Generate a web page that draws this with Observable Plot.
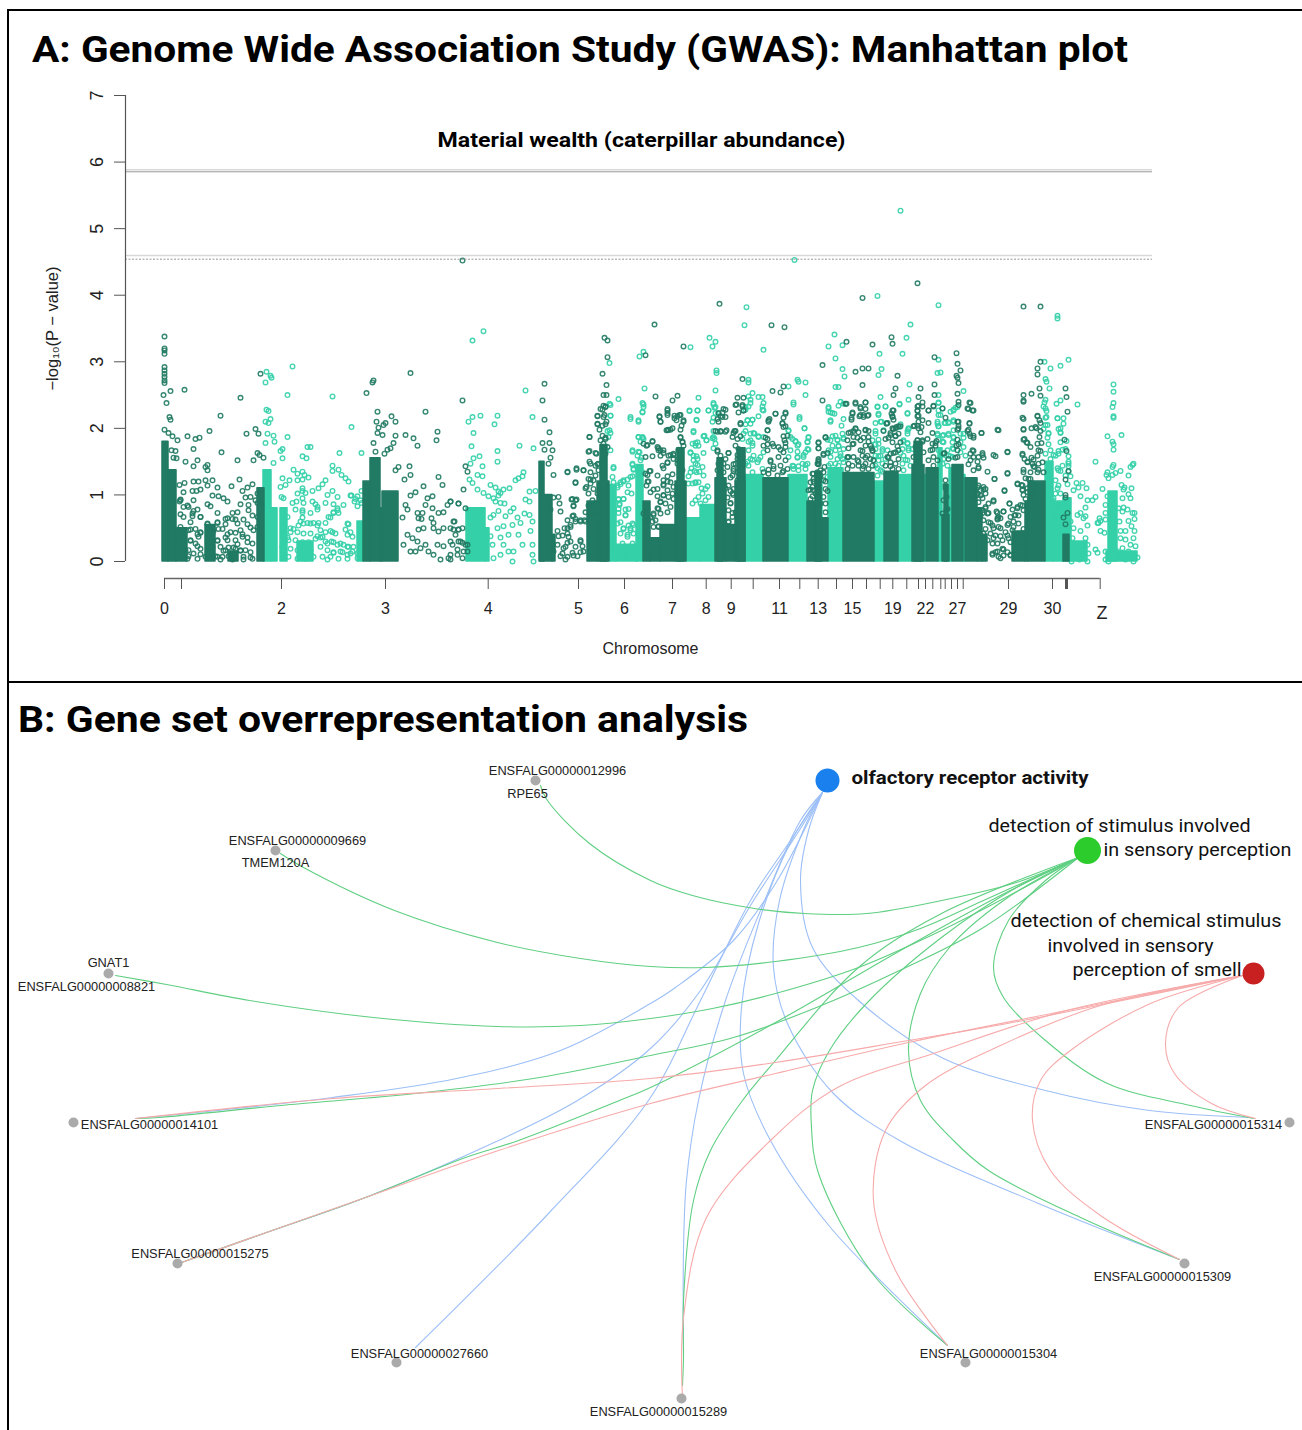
<!DOCTYPE html>
<html><head><meta charset="utf-8">
<script src="https://cdn.jsdelivr.net/npm/d3@7"></script>
<script src="https://cdn.jsdelivr.net/npm/@observablehq/plot@0.6"></script>
<style>
html,body{margin:0;padding:0;background:#fff;}
#page{position:relative;width:1302px;height:1430px;overflow:hidden;background:#fff;}
#page svg{position:absolute;left:0;background:transparent;overflow:visible;}
.title{position:absolute;font-family:Roboto,sans-serif;font-weight:700;color:#000;white-space:nowrap;line-height:1;transform-origin:left center;}
.rule{position:absolute;background:#000;}
</style></head><body>
<div id="page">
<div class="rule" style="left:7px;top:9px;width:2px;height:1421px"></div>
<div class="rule" style="left:7px;top:9px;width:1295px;height:2px"></div>
<div class="rule" style="left:7px;top:681px;width:1295px;height:2px"></div>
<div class="title" id="ta" data-w="1096" style="left:32px;top:31px;font-size:37px">A: Genome Wide Association Study (GWAS): Manhattan plot</div>
<div class="title" id="tb" data-w="730" style="left:18px;top:701px;font-size:37px">B: Gene set overrepresentation analysis</div>
</div>
<script>
// ---------- Panel A: Manhattan plot ----------
const chromTicks=[0,17,117,221,323.7,414,460,508,541.7,566.7,588.7,615,635.3,653.7,672,688,702,715.7,728.3,742.3,754,761,768.3,776.3,780.7,787,793,798.7,844,888,901,902,903,935.7];
const chromLabelPos=[0,117,221,323.7,414,460,508,541.7,566.7,615,653.7,688,728.3,761,793,844,888];
const chromLabels=["0","2","3","4","5","6","7","8","9","11","13","15","19","22","27","29","30"];
const yTicks=[0,1,2,3,4,5,6,7];
const thresholds=[5.884,5.854,4.597,4.541];

// dense columns of overplotted SNPs: start, end, top of the solid mass
const lightColumns=[99,107,1.37,107,113,.8,116,123,.8,133,149,.3,193,199,.6,302,321,.8,321,325,.5,445,452,1.15,452,473,.25,472,479,1.45,522,536,.65,536,551,.85,581,599,1.3,624,643,1.3,657,658,1.3,664,679,1.4,710,720,1.2,734,748,1.3,760,762,1.3,774,778,1.7,785,788,1.4,799,801,1.3,881,889,1.5,889,899,.9,899,907,.95,907,923,.3,944,953,1.05,942,973,.15];
const darkColumns=[-2,4,1.8,4,12,1.37,12,23,.5,41,51,.55,64,74,.15,93,100,1.1,199,206,1.2,206,216,1.55,216,218,.8,218,234,1.05,375,380,1.5,376,388,1,388,391,.4,423,433,.9,433,445,1.2,436,443,1.75,479,486,.9,486,496,.35,496,511,.55,511,522,1.2,513,520,1.7,551,562,1.25,553,559,1.55,562,571,.55,571,581,1.2,573,581,1.7,599,624,1.25,643,657,.9,651,657,1.35,658,664,.65,679,710,1.33,720,734,1.35,748,760,1.45,750,758,1.8,762,774,1.4,778,785,.7,780,784,1.15,788,799,1.45,801,813,1.25,813,818,.8,818,823,.4,848,861,.45,861,864,.9,864,881,1.2,899,905,.4];

// individual SNPs: position, -log10(p)
const darkSnps=[-1,2.5,2,2.38,6,2.56,20,2.58,76,2.46,56,2.19,5,2.17,6,2.13,0,1.98,4,1.93,8,1.88,13,1.82,23,1.88,31,1.84,35,1.86,45,1.96,82,1.92,91,1.99,94,1.92,29,1.69,7,1.67,11,1.66,57,1.64,9,1.56,12,1.55,21,1.5,33,1.52,29,1.43,73,1.52,89,1.52,93,1.63,95,1.6,99,1.56,43,1.45,41,1.42,43,1.37,75,1.23,29,1.2,34,1.2,20,1.18,15,1.15,41,1.22,48,1.22,43,1.14,67,1.13,53,1.11,83,1.11,88,1.16,78,1.06,28,1.06,36,1.08,32,1.06,19,1.04,54,.98,48,.99,16,.93,29,.92,81,.96,59,.95,63,.9,15,.9,43,.86,46,.83,33,.78,29,.76,53,.73,23,.84,19,.82,68,.73,73,.74,76,.86,84,.85,93,.88,36,.67,28,.68,16,.71,63,.65,53,.58,61,.56,71,.63,79,.63,83,.56,86,.51,43,.56,44,.48,49,.46,36,.43,33,.41,26,.48,63,.41,61,.36,71,.43,78,.41,83,.36,73,.26,69,.21,76,.16,64,.08,68,.03,79,.03,86,.06,26,.31,33,.23,21,.16,24,.08,36,.11,48,.21,53,.31,51,.08,59,.16,56,.03,64,.21,
202,2.53,208,2.69,213,2.25,212,2.1,227,2.18,231,2.1,221,2.08,219,2.05,214,2.01,213,1.93,218,1.9,231,1.89,241,1.9,249,1.85,253,1.74,261,2.25,273,1.95,272,1.82,229,1.78,226,1.7,223,1.68,209,1.78,211,1.65,220,1.62,245,1.43,234,1.42,231,1.37,246,1.3,240,1.23,274,1.27,278,1.15,259,1.13,251,1.04,246,.99,268,.98,263,.95,261,.85,241,.85,243,.78,238,.66,268,.8,253,.73,258,.73,254,.65,257,.64,267,.65,274,.73,279,.74,283,.85,286,.9,294,.87,290,.6,269,.58,269,.5,254,.48,259,.5,274,.45,279,.5,289,.48,294,.48,298,.5,243,.4,248,.35,253,.3,239,.25,246,.15,251,.15,256,.2,261,.25,264,.15,273,.25,279,.23,286,.3,294,.3,298,.28,269,.1,276,.03,284,.05,293,.1,299,.15,303,.25,286,.03,
298,2.42,380,2.67,378,2.42,380,2.13,385,1.94,378,1.78,385,1.78,380,1.68,386,1.56,388,1.67,384,1.47,389,1.3,394,.97,389,.96,395,.87,386,.78,396,.75,403,1.34,411,1.18,407,.93,412,.93,409,.83,412,1.4,419,1.37,425,1.87,424,1.65,431,1.63,433,2.18,439,2.5,442,2.5,442,2.65,438,2.28,441,2.33,440,2.2,441,2.06,433,2.06,441,1.86,439,1.7,426,1.47,433,1.46,426,1.23,421,1.1,
491,2.48,508,2.42,513,2.49,503,2.27,503,2.2,495,2.17,496,2.1,515,2.2,510,2.15,519,2.1,503,1.97,506,1.98,516,1.98,488,1.8,483,1.75,494,1.7,496,1.67,488,1.58,506,1.6,509,1.6,499,1.63,516,1.86,518,1.8,514,1.68,513,1.53,503,1.48,499,1.4,486,1.36,483,1.3,483,1.2,503,1.2,499,1.16,489,1.08,493,.98,499,1,496,.9,493,.8,489,.7,488,.6,494,.53,
554,2.1,558,2.17,561,2.28,554,2.23,561,1.95,553,1.95,556,1.95,564,1.63,553,1.65,573,2.46,579,2.46,571,2.35,578,2.35,579,2.27,576,2.06,571,1.96,569,1.93,576,1.88,573,1.6,569,1.46,569,1.36,566,1.26,561,1.1,566,1.06,563,.96,569,1,566,.88,568,.73,564,.6,
608,2.56,619,2.63,616,2.54,611,2.22,604,2.1,603,1.97,619,2.16,621,2.22,618,2.08,621,2.03,619,1.88,621,1.78,616,1.68,606,1.5,603,1.76,609,1.73,601,1.86,614,1.57,609,1.43,604,1.38,619,1.36,
658,2.42,654,1.78,654,1.7,661,1.86,659,1.6,654,1.5,654,1.46,649,1.2,646,1.08,648,.98,654,1.03,681,2.37,661,1.2,663,1.06,684,1.7,
411,.6,408,.68,416,.6,421,.6,403,.5,406,.55,393,.46,394,.38,403,.28,406,.3,399,.2,393,.25,389,.15,396,.08,408,.13,416,.3,418,.23,419,.15,413,.08,401,.03,
286,.9,294,.87,301,.8,299,1.08,289,.6,294,.48,286,.5,291,.4,296,.3,301,.25,288,.25,293,.18,303,.15,286,.1,298,.05,301,1.43,303,1.35,
698,2.65,691,2.37,696,2.3,701,2.39,704,2.2,699,2.2,695,2.18,688,2.22,687,2.13,684,1.93,691,2,689,1.96,704,1.96,701,1.98,693,1.86,699,1.86,704,1.8,707,1.7,688,1.76,683,1.57,698,1.66,701,1.56,694,1.5,699,1.43,708,1.66,731,2.6,729,2.5,729,2.27,728,2.18,729,2.13,722,2.07,728,2,734,2.03,731,2,719,1.96,726,1.9,731,1.88,733,1.73,724,1.56,729,1.63,726,1.43,
756,2.6,754,2.47,753,2.33,753,2.26,753,2.18,754,2.1,758,2.33,749,2.03,754,2,753,1.82,758,1.8,770,2.66,770,2.5,769,2.33,764,2.27,764,2.08,768,1.93,771,1.78,768,1.68,794,2.68,793,2.52,794,2.4,794,2.35,794,2.1,794,2,793,1.83,794,1.76,791,1.56,806,2.38,804,2.29,809,2.27,805,2.07,803,1.96,806,1.88,809,1.86,817,1.93,809,1.66,818,1.6,813,1.5,804,1.46,814,1.4,781,2.16,779,1.62,781,1.1,782,.78,813,1.11,819,1.08,813,1,818,.95,821,.8,818,.73,824,.73,826,.58,833,.73,839,.75,833,.63,836,.65,829,.5,836,.5,843,.55,829,.35,836,.38,844,.35,833,.15,839,.18,828,.1,836,.05,846,.1,851,.7,849,.6,856,.85,853,.8,853,1.16,857,1.15,858,1.08,859,1,863,1.1,866,.95,859,2.5,859,2.4,867,2.52,875,2.6,876,2.49,901,2.6,902,2.47,903,2.25,859,2.14,873,2.18,859,1.98,872,2,876,2.08,876,1.96,859,1.83,863,1.78,866,1.72,858,1.6,863,1.5,859,1.38,861,1.25,869,1.53,876,1.66,869,1.43,874,1.38,900,1.83,902,1.66,904,1.36,901,1.23,901,1,901,.96,903,.73,901,.56,899,.66,843,1.65,831,1.58,843,1.32,830,1.24,840,1.06,829,.9,845,.87,834,1.97,
555,3.87,490,3.56,607,3.55,620,3.52,753,4.18,698,3.96,859,3.83,876,3.83,519,3.23,682,3.3,708,3.26,727,3.37,728,3.27,658,2.95,691,2.85,698,2.9,704,2.9,733,2.79,770,3.07,792,3.13,793,2.97,796,2.87,792,2.79,793,2.76,876,3,873,2.9,873,2.81,578,2.74,298,4.52,0,3.38,0,3.2,0,3.17,0,3.12,0,2.92,0,2.87,0,2.82,0,2.77,0,2.72,0,2.68,96,2.82,209,2.72,246,2.83,440,3.36,443,3.32,443,3.07,438,2.82,481,3.1];

const darkFringe=[439,2.34,436,2.29,441,2.32,433,2.19,439,2.17,442,2.1,433,2.07,438,2.04,435,1.98,425,1.87,438,1.89,441,1.84,436,1.82,439,1.77,443,1.72,438,1.69,425,1.66,441,1.62,432,1.62,425,1.5,438,1.54,434,1.47,431,1.44,426,1.34,419,1.37,412,1.38,403,1.35,434,1.37,438,1.32,431,1.29,411,1.19,424,1.24,429,1.22,426,1.17,422,1.12,429,1.09,424,1.02,433,1.02,428,.92,424,.84,431,.87,421,.74,426,.74,431,.72,408,.94,411,.92,409,.84,409,.69,403,.62,411,.64,416,.62,420,.62,406,.52,400,.5,403,.42,398,.39,416,.32,404,.37,411,.22,401,.22,398,.12,409,.09,403,.07,416,.14,
495,2.18,496,2.1,503,2.29,503,2.23,510,2.19,513,2.18,516,2.2,512,2.12,519,2.12,517,2.04,508,2,504,1.98,502,1.97,516,1.87,518,1.79,519,1.74,488,1.81,479,1.77,482,1.74,493,1.72,494,1.67,499,1.67,496,1.59,504,1.59,509,1.62,514,1.67,516,1.54,481,1.57,503,1.49,509,1.54,513,1.47,516,1.44,498,1.44,518,1.37,485,1.36,481,1.32,493,1.29,503,1.28,508,1.31,499,1.22,506,1.19,484,1.2,482,1.14,499,1.14,513,1.14,509,1.12,493,1.09,503,1.07,508,1.02,486,1.04,499,.99,496,.89,504,.97,509,.94,501,.87,506,.82,494,.79,483,.79,489,.72,479,.72,496,.72,503,.74,486,.67,491,.62,481,.62,489,.52,494,.52,488,.19,
558,2.24,556,2.18,553,2.14,561,2.17,559,2.29,572,2.36,578,2.33,574,2.24,579,2.27,576,2.08,551,1.96,556,1.96,562,1.97,570,1.96,568,1.87,573,1.84,571,1.74,553,1.67,564,1.63,556,1.59,561,1.54,574,1.69,578,1.57,573,1.54,554,1.47,559,1.47,563,1.42,571,1.47,569,1.39,578,1.47,553,1.37,559,1.34,573,1.34,576,1.29,568,1.29,573,1.22,564,1.14,569,1.09,568,1.02,573,.99,566,.87,564,.77,571,.74,568,.67,564,.59,
611,2.22,621,2.24,604,2.12,618,2.07,605,2.14,619,2.02,603,1.97,623,1.89,620,1.82,603,1.84,608,1.77,599,1.74,614,1.72,603,1.67,621,1.72,619,1.64,606,1.52,621,1.52,616,1.44,609,1.39,599,1.34,604,1.32,618,1.34,623,1.39,613,1.29,654,1.54,653,1.47,656,1.37,649,1.32,654,1.27,646,1.19,653,1.17,644,1.07,649,1.07,646,.94,654,1.04,
654,1.79,654,1.7,661,1.87,659,1.62,663,1.63,654,1.52,654,1.47,660,1.42,659,1.34,648,1.32,653,1.34,649,1.24,656,1.29,653,1.19,659,1.22,648,1.12,654,1.09,661,1.09,651,1.02,659,.97,656,.87,661,.87,661,.74,
688,2.24,687,2.16,682,2.37,691,2.39,696,2.32,701,2.29,696,2.2,699,2.17,703,2.19,701,2.39,686,1.94,691,1.99,694,1.94,701,1.97,689,1.87,683,1.82,689,1.77,696,1.82,704,1.87,706,1.74,701,1.74,708,1.67,696,1.67,684,1.57,689,1.57,693,1.52,698,1.59,703,1.59,706,1.54,709,1.52,688,1.44,694,1.44,701,1.47,708,1.44,684,1.47,683,1.39,698,1.39,704,1.39,
728,2.27,728,2.17,727,2.22,723,2.08,732,2.02,736,2.03,729,1.99,726,1.93,731,1.89,734,1.92,721,1.84,724,1.86,736,1.79,728,1.79,723,1.57,726,1.62,731,1.64,734,1.67,726,1.49,721,1.44,731,1.47,728,1.39,734,1.54,734,1.39,
758,2.39,754,2.34,753,2.27,754,2.19,758,2.12,753,2.04,750,2.04,757,2.02,756,1.94,753,1.82,758,1.82,751,1.72,754,1.67,759,1.64,749,1.57,754,1.54,753,1.47,769,2.34,764,2.27,778,2.3,772,1.81,768,1.77,763,1.84,771,1.74,766,1.67,769,1.57,764,1.52,773,1.52,769,1.44,
805,2.39,803,2.3,808,2.27,805,2.08,804,1.98,805,1.92,809,1.89,817,1.93,793,2.1,794,2.04,793,1.98,792,1.74,793,1.67,793,1.57,780,1.63,784,1.54,781,1.22,781,1.14,782,.97,783,.79,779,.92,778,.72,
808,1.67,806,1.62,809,1.57,818,1.63,814,1.57,819,1.56,806,1.52,814,1.42,809,1.37,823,1.35,829,1.6,833,1.98,843,1.64,830,1.24,843,1.33,814,1.14,819,1.12,816,1.07,821,1.09,840,1.07,813,1.02,816,.99,821,1.02,809,.94,824,.87,829,.92,845,.87,814,.89,821,.82,832,.75,839,.75,848,.78,818,.77,823,.72,853,.82,853,1.17,858,1.14,850,.69,858,1.07,864,1.24,861,.94,858,.84,866,1.24,868,1.17,863,1.04,868,1.04,866,.94,859,.77,854,.69,846,.67,834,.67,833,.65,816,.69,819,.62,824,.59,828,.54,821,.49,834,.52,844,.57,849,.52,841,.44,854,.57,826,.42,831,.39,843,.39,848,.47,819,.42,823,.32,833,.27,838,.32,846,.29,828,.27,831,.14,838,.19,843,.14,846,.09,828,.12,834,.07,839,.09,856,.42,851,.39,854,.27,859,.49,
859,2.42,858,2.16,859,1.99,873,2.19,875,2.12,871,2.02,867,2,860,1.84,862,1.79,858,1.62,860,1.54,863,1.49,867,1.56,873,1.77,877,1.78,875,1.87,874,1.67,873,1.59,878,1.49,868,1.47,874,1.47,859,1.34,866,1.34,873,1.34,879,1.34,870,1.42,
16,.92,24,.82,28,.72,19,.67,26,.59,16,.52,36,.67,31,.49,24,.47,36,.44,43,.57,48,.52,53,.59,54,.49,58,.49,61,.64,68,.64,73,.57,76,.47,66,.44,63,.32,71,.32,78,.37,83,.29,88,.27,56,.22,61,.17,66,.12,71,.19,76,.17,81,.17,86,.14,53,.32,26,.32,31,.27,34,.37,24,.17,29,.12,36,.19,41,.07,53,.07,58,.07,69,.04,79,.07,88,.04,23,.04,33,.04,93,.52,89,.47,93,.67,88,.69,84,.77,96,.87,91,.92,86,.97,93,1.02];

const lightSnps=[123,2.5,168,2.48,187,2.02,101,2.69,102,2.28,104,2.26,106,2.14,101,2.1,104,2.08,103,1.92,109,1.89,110,1.8,123,1.87,101,1.78,118,1.69,116,1.66,118,1.55,138,1.58,143,1.72,146,1.72,142,1.55,175,1.63,197,1.63,109,1.48,168,1.44,129,1.38,133,1.32,138,1.35,140,1.3,144,1.26,133,1.22,138,1.23,168,1.36,174,1.38,177,1.3,181,1.25,184,1.2,161,1.22,158,1.16,154,1.1,118,1.25,125,1.22,121,1.15,116,1.12,138,1.1,138,1.06,133,1.02,141,1.03,148,1.06,168,1.06,163,1,173,.97,187,.99,193,.98,197,1.06,117,.97,119,.95,128,.88,148,.9,151,.86,139,.88,132,.9,138,.95,161,.88,169,.86,179,.85,190,.9,193,.83,197,.88,153,.78,146,.73,138,.77,131,.78,173,.8,169,.73,174,.73,166,.66,161,.58,138,.66,143,.58,149,.58,154,.58,136,.6,184,.56,181,.48,183,.4,166,.46,171,.42,153,.38,156,.36,161,.3,167,.3,173,.25,179,.25,184,.22,176,.15,169,.13,163,.03,183,.1,188,.15,193,.05,126,.5,123,.36,
304,2.1,308,2.17,316,2.19,333,2.19,330,2.06,309,1.93,307,1.73,333,1.66,315,1.58,309,1.55,306,1.47,318,1.43,333,1.5,313,1.3,305,1.23,318,1.28,308,1.18,326,1.15,331,1.11,313,1.08,324,.98,329,.95,334,1.05,319,1.03,
361,2.57,368,2.17,355,1.74,369,1.7,359,1.34,358,1.28,354,1.25,351,1.22,339,1.08,345,1.1,336,1.03,334,.99,365,1.05,371,1.06,361,.93,365,.9,331,.9,336,.88,340,.87,349,.8,346,.75,334,.76,329,.7,353,.66,360,.72,365,.7,341,.68,326,.66,333,.5,339,.53,348,.55,356,.58,368,.6,326,.38,336,.36,344,.4,354,.4,366,.46,328,.25,339,.25,349,.15,358,.25,368,.25,336,.1,344,.15,329,.05,348,0,368,.1,369,0,
454,2.44,466,2.14,474,2.1,480,2.6,479,2.36,478,2.25,446,2.35,446,2.19,443,1.96,446,1.93,468,1.65,478,1.86,474,1.87,476,1.8,474,1.65,477,1.56,449,1.4,468,1.45,469,1.38,468,1.28,463,1.23,459,1.2,456,1.16,453,1.11,459,.94,454,.93,455,.85,461,.78,454,.73,461,.7,469,.55,466,.5,459,.5,463,.4,
534,2.46,525,2.26,533,2.27,532,2.12,529,1.94,539,1.88,542,1.82,531,1.78,534,1.74,526,1.63,532,1.58,529,1.52,533,1.45,527,1.4,535,1.35,524,1.28,531,1.18,537,1.1,543,1.13,548,1.85,551,2.57,549,2.36,550,2.31,544,2.27,551,2.23,548,2.1,549,1.96,549,1.7,
584,2.69,588,2.53,584,2.48,586,2.43,581,2.28,584,2.33,598,2.28,599,2.38,598,2.47,594,2.47,588,2.13,583,2.12,581,2.06,581,1.96,586,1.92,590,1.92,594,1.88,584,1.8,588,1.78,583,1.5,594,1.53,588,1.53,
629,2.36,635,2.14,640,2,634,2.7,641,2.69,624,2.63,641,2.5,624,1.96,626,1.87,631,1.8,634,1.76,633,1.65,644,1.86,643,1.8,644,1.68,639,1.6,633,1.56,629,1.43,634,1.43,641,1.45,
664,2.25,671,2.62,674,2.62,664,2.3,668,2.23,666,2.1,676,2.4,679,2.37,673,1.83,679,1.86,668,1.88,663,1.83,674,1.73,666,1.65,683,1.56,676,1.58,
716,2.47,721,2.33,713,2.32,714,2.2,735,2.36,744,2.43,743,2.22,745,2.66,736,2.06,743,1.96,744,2,716,2.1,711,1.96,714,1.83,711,1.76,718,1.66,714,1.58,739,1.8,743,1.78,744,1.7,736,1.63,741,1.53,713,1.4,718,1.35,774,2.5,774,2.38,778,2.3,774,2.2,773,2.1,781,2.08,774,2.03,773,1.9,779,1.9,774,1.83,778,1.8,786,2.25,789,2.28,791,2.31,784,2.08,789,2.1,784,1.9,789,1.86,788,1.7,786,1.58,799,2.56,799,1.86,
882,2.7,885,2.6,881,2.43,892,2.37,896,2.42,913,2.36,879,2.33,882,2.26,881,2.16,893,2.15,899,2.07,883,2.05,884,1.93,896,2,896,1.93,883,1.86,898,1.68,894,1.66,889,1.6,904,1.58,904,1.5,931,1.5,884,1.76,904,1.43,893,1.4,896,1.36,906,1.28,903,1.16,912,1.18,918,1.18,914,1.11,922,1.1,909,1.07,893,1.1,889,.95,893,.85,916,.98,931,.97,928,.92,923,.92,921,.81,913,.7,916,.73,921,.68,919,.65,923,.54,933,.58,935,.65,941,.73,931,.18,933,.13,941,.15,906,.6,909,.5,916,.46,921,.35,908,.35,913,.25,923,.25,909,.13,918,.15,924,.12,907,0,915,.03,923,0,
949,2.66,949,2.55,949,2.38,948,2.32,949,2.18,949,2.16,943,1.88,957,1.9,948,1.8,949,1.76,949,1.68,969,1.47,968,1.45,966,1.42,949,1.45,948,1.42,964,1.29,956,1.36,951,1.33,948,1.3,943,1.34,942,1.3,944,1.25,938,1.09,957,1.15,960,1.11,967,1.1,959,1.08,964,1.01,958,.95,966,.95,943,.98,941,.85,959,.81,963,.78,954,.8,958,.75,968,.73,970,.73,970,.64,941,.63,936,.61,934,.58,964,.61,967,.53,955,.6,936,.46,940,.43,956,.46,961,.46,970,.46,969,.35,961,.33,956,.35,966,.25,971,.23,964,.15,973,.06,968,.1,958,.2,956,.05,961,.03,969,0,953,.15,941,.03,944,0,
736,5.27,630,4.53,713,3.99,774,3.85,582,3.82,580,3.55,893,3.69,893,3.65,746,3.56,545,3.36,551,3.3,548,3.23,526,3.22,599,3.18,670,3.41,664,3.23,678,3.25,671,3.05,678,2.89,680,2.78,742,3.36,738,3.12,715,3.12,717,2.89,714,2.8,774,3.03,773,2.83,776,2.84,552,2.87,552,2.83,584,2.73,633,2.73,880,3,886,2.9,896,2.94,904,3.03,881,2.74,308,3.32,319,3.46,102,2.85,106,2.79,107,2.76,128,2.93,445,2.98,475,3.08,479,3.15];

const lightFringe=[445,2.37,446,2.19,445,1.97,444,1.87,446,1.67,449,1.42,448,1.27,449,1.19,466,2.17,474,2.12,478,2.38,479,2.32,478,2.24,468,1.67,468,1.47,469,1.39,474,1.87,478,1.87,479,1.84,475,1.64,473,1.59,476,1.52,474,1.42,478,1.34,466,1.27,459,1.22,456,1.19,453,1.14,464,1.14,463,1.04,467,1.02,454,.94,459,.94,455,.87,464,.79,454,.79,461,.69,456,.59,453,.57,464,.54,459,.49,468,.57,466,.47,456,.42,463,.37,469,.42,458,.27,468,.27,453,.19,464,.17,461,.07,456,.09,
525,2.27,533,2.27,532,2.13,529,1.96,540,1.89,542,1.82,533,1.79,528,1.77,531,1.74,526,1.64,539,1.63,529,1.59,533,1.54,531,1.47,526,1.34,530,1.36,532,1.34,538,1.42,539,1.29,534,1.19,531,1.19,524,1.17,528,1.17,541,1.09,538,1.02,534,.97,544,.97,531,.92,528,.87,541,.92,536,.87,544,.82,541,.72,546,.67,
549,2.38,551,2.32,544,2.27,549,2.16,554,2.22,583,2.12,586,2.07,588,2.13,594,2.18,599,2.27,598,2.33,586,2.38,581,2.32,579,1.92,578,1.84,589,1.93,594,1.87,599,1.87,586,1.82,588,1.74,584,1.67,589,1.59,599,1.64,596,1.57,586,1.54,593,1.49,598,1.39,584,1.44,588,1.34,581,1.47,551,1.77,550,1.84,549,1.87,
629,2.39,635,2.17,640,2,624,1.97,628,1.84,644,1.87,631,1.81,643,1.79,633,1.74,626,1.67,643,1.69,641,1.64,639,1.57,633,1.57,624,1.57,628,1.44,638,1.47,643,1.47,641,1.39,634,1.37,629,1.39,
664,2.32,666,2.24,670,2.22,666,2.12,674,2.34,679,2.14,677,2.04,671,1.89,678,1.92,666,1.82,673,1.82,679,1.84,668,1.74,674,1.74,679,1.69,664,1.67,671,1.67,676,1.62,666,1.57,673,1.54,678,1.54,679,1.49,671,1.47,666,1.47,674,1.44,663,1.27,664,1.44,
713,2.33,721,2.33,714,2.22,711,2.08,717,2.1,722,2.08,719,1.97,711,1.92,708,1.82,714,1.77,711,1.69,718,1.69,716,1.59,723,1.67,711,1.59,709,1.52,718,1.47,714,1.52,721,1.54,711,1.44,716,1.37,713,1.29,
735,2.37,743,2.23,735,2.02,744,1.99,743,1.92,739,1.82,743,1.77,738,1.69,744,1.67,739,1.59,748,1.69,743,1.52,738,1.47,746,1.44,739,1.37,
774,2.39,774,2.27,776,2.2,773,2.07,774,2.03,780,2.08,784,2.09,789,2.12,789,2.27,793,2.32,773,1.92,778,1.89,779,1.79,789,1.97,784,1.92,789,1.87,796,1.92,799,1.92,788,1.79,789,1.69,783,1.67,778,1.62,784,1.59,779,1.54,788,1.57,796,1.79,799,1.72,796,1.64,801,1.59,778,1.47,783,1.44,774,1.67,
880,2.39,881,2.3,882,2.17,893,2.15,899,2.15,881,2.05,879,1.99,894,1.99,896,1.94,884,1.92,902,1.81,896,1.79,894,1.62,886,1.67,881,1.62,891,1.59,901,1.69,886,1.54,904,1.47,898,1.44,894,1.37,904,1.35,901,1.29,891,1.22,894,1.14,886,1.09,891,1.02,896,1.02,888,.92,893,.82,891,.69,889,.62,
129,.49,134,.54,139,.57,146,.57,153,.54,126,.44,133,.44,139,.42,146,.42,156,.47,161,.44,168,.44,124,.32,131,.32,138,.29,144,.29,151,.34,158,.37,163,.27,169,.29,176,.27,183,.57,186,.44,188,.37,183,.22,189,.22,196,.22,126,.19,133,.17,139,.17,146,.17,156,.22,163,.17,169,.14,178,.14,186,.12,193,.12,124,.07,133,.04,141,.04,149,.07,158,.07,166,.07,174,.04,183,.04,118,.22,119,.42,123,.67,138,.74,164,.67,169,.74,173,.77,153,.82,191,.94,196,.92,186,.99];

const darkColor="#217a63", lightColor="#34d0a8";
const triples=a=>d3.range(0,a.length,3).map(i=>({x1:a[i],x2:a[i+1],top:a[i+2]}));
const pairs=a=>d3.range(0,a.length,2).map(i=>({pos:a[i],p:a[i+1]}));
const labelFor=new Map(chromLabelPos.map((p,i)=>[p,chromLabels[i]]));
const sans="Liberation Sans";
const snpStyle={x:"pos",y:"p",r:2.3,strokeWidth:1.4,fill:"none"};

const manhattan=Plot.plot({
  width:1302,height:682,marginLeft:125,marginRight:0,marginTop:95,marginBottom:104,
  style:{fontFamily:sans,background:"transparent",color:"#222"},
  x:{domain:[0,936],range:[164,1100]},
  y:{domain:[0,7],range:[561,95]},
  marks:[
    Plot.rect(triples(lightColumns),{x1:"x1",x2:"x2",y1:0,y2:"top",fill:lightColor,stroke:lightColor,strokeWidth:1.5,strokeLinejoin:"round"}),
    Plot.dot(pairs(lightSnps.concat(lightFringe)),{...snpStyle,stroke:lightColor,strokeOpacity:.9}),
    Plot.rect(triples(darkColumns),{x1:"x1",x2:"x2",y1:0,y2:"top",fill:darkColor,stroke:darkColor,strokeWidth:1.5,strokeLinejoin:"round"}),
    Plot.dot(pairs(darkSnps.concat(darkFringe)),{...snpStyle,stroke:darkColor,strokeOpacity:.9}),
    Plot.ruleY([thresholds[0],thresholds[2]],{x1:-39,x2:988,stroke:"#d8d8d8",strokeWidth:1.5}),
    Plot.ruleY([thresholds[1]],{x1:-39,x2:988,stroke:"#999",strokeWidth:1}),
    Plot.ruleY([thresholds[3]],{x1:-39,x2:988,stroke:"#999",strokeWidth:1,strokeDasharray:"2,1.5"}),
    Plot.ruleX([-39],{y1:0,y2:7,stroke:"#555",strokeWidth:1.2}),
    Plot.ruleY([-0.255],{x1:0,x2:935.7,stroke:"#666",strokeWidth:1.5}),
    Plot.axisY({ticks:yTicks,tickSize:11,tickPadding:12,tickRotate:-90,fontSize:18,label:null,stroke:"#555",fill:"#222",anchor:"left",tickFormat:d=>String(d)}),
    Plot.axisX({ticks:chromTicks,tickSize:11,tickPadding:13,fontSize:16,label:null,stroke:"#555",fill:"#222",
      tickFormat:d=>labelFor.get(d)??"",anchor:"bottom"}),
    Plot.text(["Z"],{x:937.5,y:-0.77,fontSize:18,fill:"#222",fontFamily:sans}),
    Plot.text(["Chromosome"],{x:486,y:-1.32,fontSize:16,fill:"#222",fontFamily:sans}),
    Plot.text(["−log₁₀(P − value)"],{x:-112,y:3.5,rotate:-90,fontSize:16.5,fill:"#222",fontFamily:sans}),
    Plot.text(["Material wealth (caterpillar abundance)"],{x:477,y:6.33,fontSize:21,fontWeight:700,fill:"#000",fontFamily:"Roboto"})
  ]
});
manhattan.style.top="0";
document.getElementById("page").appendChild(manhattan);

// ---------- Panel B: gene-concept network ----------
const geneNames=["ENSFALG00000012996","ENSFALG00000009669","ENSFALG00000008821","ENSFALG00000014101","ENSFALG00000015275","ENSFALG00000027660","ENSFALG00000015289","ENSFALG00000015304","ENSFALG00000015309","ENSFALG00000015314"];
const geneX=[535,275,108,73,177,396,681,965,1184,1289];
const geneY=[780,850,973,1122,1263,1362,1398,1362,1263,1122];
const geneLabelX=[557,297,86,149,199.5,419,658,988,1162,1213];
const geneLabelY=[770,840,986,1124,1253,1353,1411,1353,1276,1124];
const symbols=["RPE65","TMEM120A","GNAT1"];
const symbolX=[527,275,108];
const symbolY=[793,862,962];
const termNames=["olfactory receptor activity","detection of stimulus involved in sensory perception","detection of chemical stimulus involved in sensory perception of smell"];
const termX=[827,1087,1253];
const termY=[780,850,973];
const termR=[12,13.5,11];
const termColors=["#1a80ee","#2dcc2d","#c82020"];
const edgeColors=["#9cbff7","#5fcf82","#f7aaaa"];

const olfactoryEdges=[
 [135,1118,187,1113,332,1097,456,1078,560,1050,650,1003,675,987,733,940,775,883,822,792],
 [181,1262,266,1232,365,1197,498,1140,577,1100,650,1048,700,990,750,905,800,828,822,792],
 [415,1347,548,1213,648,1100,700,1000,750,900,790,840,822,792],
 [683,1355,683,1250,686,1180,698,1100,725,1000,760,910,800,820,822,792],
 [947,1345,830,1227,770,1140,743,1073,741,1007,758,923,791,840,822,792],
 [1179,1259,1038,1203,899,1140,833,1093,787,1023,773,967,779,900,804,827,822,792],
 [1250,1117,1149,1110,1045,1090,941,1057,858,1000,812,947,800,880,808,830,822,792]];
const stimulusEdges=[
 [540,785,547,800,589,843,650,880,692,895,754,908,804,913,866,913,941,900,1016,882,1078,857],
 [280,853,303,867,394,910,497,942,580,958,650,966,704,967,775,961,858,947,920,928,983,900,1078,857],
 [115,975,166,984,249,1000,373,1017,497,1026,580,1025,650,1018,712,1008,775,993,858,967,941,930,1024,887,1078,857],
 [135,1118,158,1117,290,1104,415,1093,539,1077,650,1055,733,1037,816,1007,899,970,983,927,1078,857],
 [181,1262,266,1232,365,1197,465,1157,518,1140,619,1100,650,1087,775,1022,900,950,1000,895,1078,857],
 [682,1385,683,1357,683,1300,693,1200,710,1150,742,1100,775,1060,858,967,941,913,1078,857],
 [947,1345,872,1273,818,1173,811,1127,812,1090,829,1050,866,1003,941,937,1016,887,1078,857],
 [1179,1259,1080,1217,988,1170,953,1140,920,1100,908,1050,920,993,949,947,1003,900,1078,857],
 [1253,1118,1190,1105,1107,1083,1045,1040,1003,997,993,967,1008,920,1045,880,1078,857]];
const chemicalEdges=[
 [135,1118,332,1098,498,1088,650,1078,775,1062,908,1040,1007,1023,1107,1003,1242,975],
 [181,1262,266,1232,365,1197,498,1150,650,1103,775,1073,908,1042,1066,1010,1242,975],
 [682,1398,683,1317,706,1217,770,1140,837,1087,933,1053,1066,1010,1242,975],
 [947,1345,895,1270,873,1200,885,1130,925,1085,1000,1045,1100,1005,1242,975],
 [1179,1259,1100,1215,1050,1170,1032,1120,1040,1080,1070,1050,1150,1003,1242,975],
 [1255,1118,1211,1103,1174,1073,1165,1043,1178,1007,1242,975]];
const edgeRows=[];
[olfactoryEdges,stimulusEdges,chemicalEdges].forEach((set,t)=>set.forEach((path,e)=>{
  for(let i=0;i<path.length;i+=2) edgeRows.push({id:t+"-"+e,term:t,x:path[i],y:path[i+1]});
}));
const labelRows=[
 {t:"olfactory receptor activity",x:851,y:777,a:"start",b:700,w:237},
 {t:"detection of stimulus involved",x:1250,y:825,a:"end",b:400,w:262},
 {t:"in sensory perception",x:1103,y:849,a:"start",b:400,w:188},
 {t:"detection of chemical stimulus",x:1281,y:920,a:"end",b:400,w:271},
 {t:"involved in sensory",x:1213,y:945,a:"end",b:400,w:166},
 {t:"perception of smell",x:1241,y:969,a:"end",b:400,w:169}];
const genes=geneNames.map((n,i)=>({n,x:geneX[i],y:geneY[i],lx:geneLabelX[i],ly:geneLabelY[i]}));
const terms=termNames.map((n,i)=>({n,x:termX[i],y:termY[i],r:termR[i],c:termColors[i]}));
const syms=symbols.map((n,i)=>({n,x:symbolX[i],y:symbolY[i]}));

const network=Plot.plot({
  width:1302,height:748,margin:0,
  style:{background:"transparent",fontFamily:sans},
  x:{domain:[0,1302],range:[0,1302],axis:null},
  y:{domain:[682,1430],range:[0,748],axis:null},
  r:{type:"identity"},
  marks:[
    [0,1,2].map(t=>Plot.line(edgeRows.filter(d=>d.term===t),{x:"x",y:"y",z:"id",stroke:edgeColors[t],strokeWidth:1.1,curve:"catmull-rom"})),
    Plot.dot(genes,{x:"x",y:"y",r:5,fill:"#aaa"}),
    Plot.dot(terms,{x:"x",y:"y",r:"r",fill:"c"}),
    Plot.text(genes,{x:"lx",y:"ly",text:"n",fontSize:12.8,fill:"#222",fontFamily:sans}),
    Plot.text(syms,{x:"x",y:"y",text:"n",fontSize:12.8,fill:"#222",fontFamily:sans}),
    labelRows.map(d=>Plot.text([d],{x:"x",y:"y",text:"t",textAnchor:d.a,fontSize:19,fontWeight:d.b,fill:"#111",fontFamily:"Roboto"}))
  ]
});
network.style.top="682px";
document.getElementById("page").appendChild(network);

// fit long labels to the widths they occupy in the reference
const fitText=(svg,str,w)=>{svg.querySelectorAll("text").forEach(el=>{if(el.textContent===str){el.setAttribute("textLength",w);el.setAttribute("lengthAdjust","spacingAndGlyphs");}});};
labelRows.forEach(d=>fitText(network,d.t,d.w));
fitText(manhattan,"Material wealth (caterpillar abundance)",408);
document.querySelectorAll(".title").forEach(el=>{
  const w=el.getBoundingClientRect().width;
  el.style.transform=`scaleX(${+el.dataset.w/w})`;
});
</script>
</body></html>
